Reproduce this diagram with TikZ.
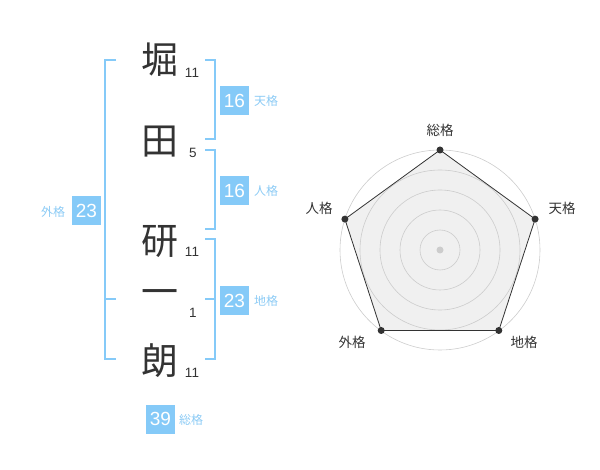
\documentclass[tikz,border=0pt]{standalone}
\usepackage{fontspec}
\setmainfont{Liberation Sans}
\newfontfamily\jpfont{Noto Sans CJK JP}
\definecolor{bluebox}{HTML}{85CAF8}
\definecolor{bluetext}{HTML}{8CCBF5}
\definecolor{ink}{HTML}{333333}
\definecolor{ringgray}{HTML}{CCCCCC}
\definecolor{fillgray}{HTML}{F0F0F0}
\tikzset{
  namechar/.style={inner sep=0pt, text=ink, font=\jpfont\fontsize{37}{37}\selectfont},
  strokes/.style={inner sep=0pt, text=ink, font=\fontsize{13.5}{13.5}\selectfont},
  scorebox/.style={fill=bluebox, text=white, minimum width=29pt, minimum height=29pt, inner sep=0pt, font=\fontsize{19}{19}\selectfont},
  scorelabel/.style={inner sep=0pt, text=bluetext, font=\jpfont\fontsize{12}{12}\selectfont},
  bracket/.style={draw=bluebox, line width=1.6pt},
  ring/.style={draw=ringgray, line width=0.6pt},
  outline/.style={draw=ink, line width=0.8pt},
  axislabel/.style={inner sep=0pt, text=ink, font=\jpfont\fontsize{13.5}{13.5}\selectfont},
  vdot/.style={circle, fill=ink, inner sep=0pt, minimum size=7pt},
}
\begin{document}
\begin{tikzpicture}[x=1pt,y=-1pt]
\useasboundingbox (0,0) rectangle (600,470);
% name characters
\node[namechar] (c1) at (160,60) {堀};
\node[namechar] (c2) at (160,142) {田};
\node[namechar] (c3) at (160,242) {研};
\node[namechar] (c4) at (160,298) {一};
\node[namechar] (c5) at (160,361) {朗};
% stroke counts
\node[strokes] (n1) at (192,73) {11};
\node[strokes] (n2) at (193,153) {5};
\node[strokes] (n3) at (192,252) {11};
\node[strokes] (n4) at (193,313) {1};
\node[strokes] (n5) at (192,373) {11};
% brackets
\draw[bracket] (116,60) -- (105,60) -- (105,359) -- (116,359);
\draw[bracket] (105,299) -- (116,299);
\draw[bracket] (205,60) -- (215,60) -- (215,139) -- (205,139);
\draw[bracket] (205,150) -- (215,150) -- (215,229) -- (205,229);
\draw[bracket] (205,239) -- (215,239) -- (215,359) -- (205,359);
\draw[bracket] (205,299) -- (215,299);
% scores
\node[scorebox] (ten) at (234.5,100.5) {16};
\node[scorelabel] (tenl) at (266,101) {天格};
\node[scorebox] (jin) at (234.5,190.5) {16};
\node[scorelabel] (jinl) at (266,191) {人格};
\node[scorebox] (chi) at (234.5,300.5) {23};
\node[scorelabel] (chil) at (266,301) {地格};
\node[scorebox] (gai) at (86.5,210.5) {23};
\node[scorelabel] (gail) at (53,212) {外格};
\node[scorebox] (sou) at (160.5,419) {39};
\node[scorelabel] (soul) at (191,420) {総格};
% radar chart
\coordinate (ctr) at (440,250);
\coordinate (pS) at (440,150);
\coordinate (pT) at (535.1,219.1);
\coordinate (pC) at (498.8,330.5);
\coordinate (pG) at (381.2,330.5);
\coordinate (pJ) at (344.9,219.1);
\fill[fillgray] (pS) -- (pT) -- (pC) -- (pG) -- (pJ) -- cycle;
\foreach \r in {20,40,60,80,100} {
  \draw[ring] (ctr) circle[radius=\r];
}
\draw[outline] (pS) -- (pT) -- (pC) -- (pG) -- (pJ) -- cycle;
\node[circle, fill=ringgray, inner sep=0pt, minimum size=7pt] (cdot) at (ctr) {};
\node[vdot] (dS) at (pS) {};
\node[vdot] (dT) at (pT) {};
\node[vdot] (dC) at (pC) {};
\node[vdot] (dG) at (pG) {};
\node[vdot] (dJ) at (pJ) {};
\node[axislabel] (lS) at (440,130) {総格};
\node[axislabel] (lT) at (562,208) {天格};
\node[axislabel] (lC) at (524,342) {地格};
\node[axislabel] (lG) at (352,342) {外格};
\node[axislabel] (lJ) at (319,208) {人格};
\end{tikzpicture}
\end{document}
